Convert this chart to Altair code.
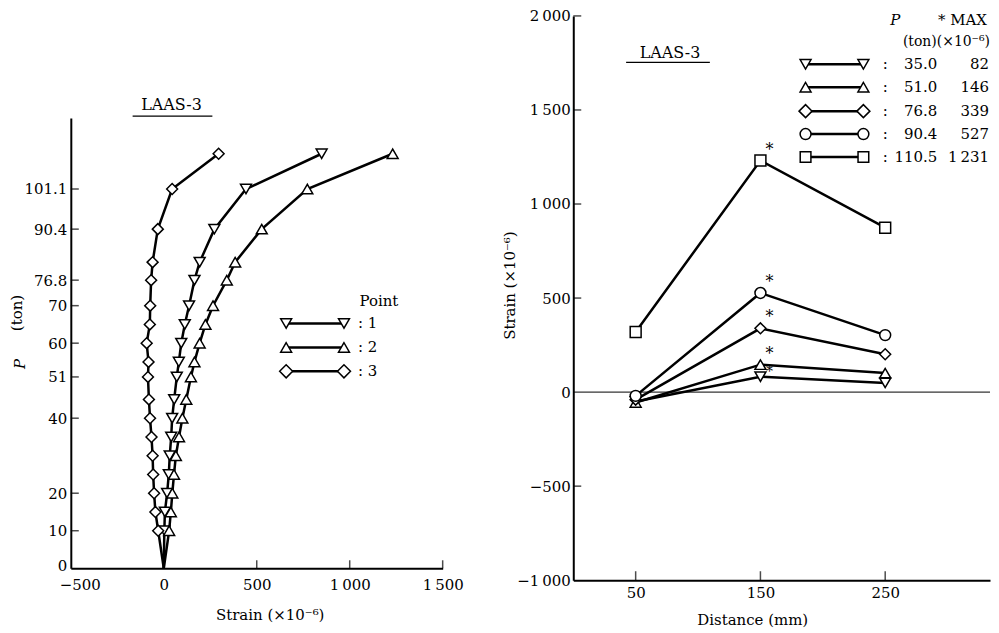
import altair as alt
import pandas as pd

# ---------------- data ----------------
# Left panel: load P (ton) vs strain (x10^-6) at three gauge points
loads = [0, 10, 15, 20, 25, 30, 35, 40, 45, 51, 55, 60, 65, 70, 76.8, 81.6, 90.4, 101.1, 110.5]
strain_p1 = [0, 3, 6, 18, 27, 32, 40, 45, 56, 70, 81, 94, 113, 136, 165, 193, 272, 442, 849]
strain_p2 = [0, 29, 38, 46, 55, 65, 82, 100, 121, 146, 165, 193, 224, 265, 339, 384, 527, 772, 1231]
strain_p3 = [0, -30, -45, -52, -57, -60, -66, -74, -80, -85, -82, -92, -75, -73, -68, -60, -32, 45, 295]
point_names = ["1", "2", "3"]
point_shapes = ["triangle-down", "triangle-up", "diamond"]
point_sizes = [120, 120, 170]

left_y_ticks = [0, 10, 20, 40, 51, 60, 70, 76.8, 90.4, 101.1]
left_y_inner_ticks = [10, 20, 40, 51, 60, 70, 76.8, 90.4, 101.1]
left_x_ticks = [-500, 0, 500, 1000, 1500]
left_x_inner_ticks = [500, 1000, 1500]

# Right panel: strain vs distance for five load levels
distances = [50, 150, 250]
load_levels = ["35.0", "51.0", "76.8", "90.4", "110.5"]
max_labels = ["82", "146", "339", "527", "1\u2009231"]
strain_35 = [-50, 82, 49]
strain_51 = [-55, 146, 101]
strain_768 = [-40, 339, 201]
strain_904 = [-20, 527, 303]
strain_1105 = [320, 1231, 874]
level_shapes = ["triangle-down", "triangle-up", "diamond", "circle", "square"]
level_sizes = [120, 120, 170, 120, 115]

right_y_ticks = [-1000, -500, 0, 500, 1000, 1500, 2000]
right_y_inner_ticks = [-500, 500, 1000, 1500, 2000]
right_x_ticks = [50, 150, 250]

# ---------------- tables ----------------
left_df = pd.DataFrame({
    "load": loads * 3,
    "strain": strain_p1 + strain_p2 + strain_p3,
    "point": [point_names[0]] * len(loads) + [point_names[1]] * len(loads) + [point_names[2]] * len(loads),
})
right_series = [strain_35, strain_51, strain_768, strain_904, strain_1105]
right_df = pd.DataFrame({
    "distance": distances * len(load_levels),
    "strain": sum(right_series, []),
    "level": sum([[lv] * len(distances) for lv in load_levels], []),
})
one = pd.DataFrame({"a": [0]})

FONT = "DejaVu Serif"
THOUSANDS = "replace(format(datum.value, ','), ',', '\u2009')"

# ---------------- left panel ----------------
LW, LH = 373, 554
lx = alt.Scale(domain=[-500, 1500], nice=False, zero=False)
ly = alt.Scale(domain=[0, 120], range=[LH, 102.5], nice=False)
shape_l = alt.Shape("point:N", scale=alt.Scale(domain=point_names, range=point_shapes), legend=None)
size_l = alt.Size("point:N", scale=alt.Scale(domain=point_names, range=point_sizes), legend=None)

l_lines = alt.Chart(left_df).mark_line(color="black", strokeWidth=2.5).encode(
    x=alt.X("strain:Q", scale=lx, axis=alt.Axis(
        values=left_x_ticks, ticks=False, grid=False, title=None,
        labelExpr=THOUSANDS, labelFlush=False, domainWidth=2, labelPadding=9,
        labelOffset={"condition": {"test": "datum.value == -500", "value": 9}, "value": 0})),
    y=alt.Y("load:Q", scale=ly, axis=alt.Axis(
        values=left_y_ticks, ticks=False, grid=False, title=None,
        format=".4~g", domainWidth=2, labelPadding=4,
        labelOffset={"condition": {"test": "datum.value == 0", "value": -3}, "value": 0})),
    detail="point:N",
    order="load:Q",
)
l_points = alt.Chart(left_df).transform_filter("datum.load > 0").mark_point(
    filled=True, fill="white", stroke="black", strokeWidth=1.5, opacity=1
).encode(
    x=alt.X("strain:Q", scale=lx),
    y=alt.Y("load:Q", scale=ly),
    shape=shape_l, size=size_l,
)
l_yt = alt.Chart(pd.DataFrame({"load": left_y_inner_ticks})).mark_tick(
    orient="horizontal", size=8, thickness=1.5, color="black"
).encode(y=alt.Y("load:Q", scale=ly), x=alt.value(4))
l_xt = alt.Chart(pd.DataFrame({"strain": left_x_inner_ticks})).mark_tick(
    orient="vertical", size=8, thickness=1.5, color="black"
).encode(x=alt.X("strain:Q", scale=lx), y=alt.value(LH - 4))

l_texts = [
    alt.Chart(one).mark_text(text="LAAS-3", fontSize=16).encode(x=alt.value(101), y=alt.value(89.5)),
    alt.Chart(one).mark_rule(color="black", strokeWidth=1.2).encode(x=alt.value(62), x2=alt.value(142), y=alt.value(100.5)),
    alt.Chart(one).mark_text(text="Point", fontSize=15).encode(x=alt.value(309), y=alt.value(285.5)),
    alt.Chart(one).mark_text(text="P", fontSize=15, fontStyle="italic", angle=270).encode(x=alt.value(-51), y=alt.value(349)),
    alt.Chart(one).mark_text(text="(ton)", fontSize=15, angle=270).encode(x=alt.value(-53.5), y=alt.value(298)),
    alt.Chart(one).mark_text(text="Strain (\u00d710\u207b\u2076)", fontSize=15).encode(x=alt.value(200), y=alt.value(601)),
]
leg_rows_l = [308.5, 332.5, 356.5]
for i, nm in enumerate(point_names):
    yy = leg_rows_l[i]
    l_texts.append(alt.Chart(one).mark_rule(color="black", strokeWidth=2.5).encode(
        x=alt.value(216), x2=alt.value(274), y=alt.value(yy)))
    for xx in (216, 274):
        l_texts.append(alt.Chart(one).mark_point(
            shape=point_shapes[i], size=point_sizes[i], filled=True, fill="white",
            stroke="black", strokeWidth=1.5, opacity=1).encode(x=alt.value(xx), y=alt.value(yy)))
    l_texts.append(alt.Chart(one).mark_text(text=": " + nm, fontSize=15, align="left").encode(
        x=alt.value(288), y=alt.value(yy)))

left = alt.layer(l_lines, l_points, l_yt, l_xt, *l_texts).properties(width=LW, height=LH)

# ---------------- right panel ----------------
RW, RH = 418, 566
rx = alt.Scale(domain=[0, 334], nice=False, zero=False)
ry = alt.Scale(domain=[-1000, 2000], nice=False)
shape_r = alt.Shape("level:N", scale=alt.Scale(domain=load_levels, range=level_shapes), legend=None)
size_r = alt.Size("level:N", scale=alt.Scale(domain=load_levels, range=level_sizes), legend=None)

r_lines = alt.Chart(right_df).mark_line(color="black", strokeWidth=2.5).encode(
    x=alt.X("distance:Q", scale=rx, axis=alt.Axis(values=right_x_ticks, ticks=False, grid=False, title=None,
                                                   labelFlush=False, domainWidth=2, labelPadding=5)),
    y=alt.Y("strain:Q", scale=ry, axis=alt.Axis(values=right_y_ticks, ticks=False, grid=False, title=None,
                                                 labelExpr=THOUSANDS, domainWidth=2, labelPadding=3)),
    detail="level:N",
)
r_zero = alt.Chart(pd.DataFrame({"strain": [0]})).mark_rule(color="black", strokeWidth=1).encode(
    y=alt.Y("strain:Q", scale=ry))
r_points = alt.Chart(right_df).mark_point(
    filled=True, fill="white", stroke="black", strokeWidth=1.5, opacity=1
).encode(
    x=alt.X("distance:Q", scale=rx),
    y=alt.Y("strain:Q", scale=ry),
    shape=shape_r, size=size_r,
)
# asterisks marking the maximum (at 150 mm); the lowest one sits a little lower
r_star_low = alt.Chart(right_df).transform_filter(
    "datum.distance == 150 && datum.level == '35.0'"
).mark_text(text="*", fontSize=14, dx=9, dy=-5).encode(
    x=alt.X("distance:Q", scale=rx), y=alt.Y("strain:Q", scale=ry))
r_star = alt.Chart(right_df).transform_filter(
    "datum.distance == 150 && datum.level != '35.0'"
).mark_text(text="*", fontSize=16, dx=9, dy=-11).encode(
    x=alt.X("distance:Q", scale=rx), y=alt.Y("strain:Q", scale=ry))
r_yt = alt.Chart(pd.DataFrame({"strain": right_y_inner_ticks})).mark_tick(
    orient="horizontal", size=8, thickness=1.5, color="black"
).encode(y=alt.Y("strain:Q", scale=ry), x=alt.value(4))
r_xt = alt.Chart(pd.DataFrame({"distance": right_x_ticks})).mark_tick(
    orient="vertical", size=9, thickness=1.5, color="black"
).encode(x=alt.X("distance:Q", scale=rx), y=alt.value(RH - 4.5))

r_texts = [
    alt.Chart(one).mark_text(text="LAAS-3", fontSize=16).encode(x=alt.value(97), y=alt.value(37.5)),
    alt.Chart(one).mark_rule(color="black", strokeWidth=1.2).encode(x=alt.value(53), x2=alt.value(137), y=alt.value(46.5)),
    alt.Chart(one).mark_text(text="P", fontSize=15, fontStyle="italic").encode(x=alt.value(323), y=alt.value(4.5)),
    alt.Chart(one).mark_text(text="* MAX", fontSize=15, align="right").encode(x=alt.value(415), y=alt.value(4.5)),
    alt.Chart(one).mark_text(text="(ton)(\u00d710\u207b\u2076)", fontSize=14, align="right").encode(x=alt.value(418), y=alt.value(26.5)),
    alt.Chart(one).mark_text(text="Strain (\u00d710\u207b\u2076)", fontSize=15, angle=270).encode(x=alt.value(-63), y=alt.value(270.5)),
    alt.Chart(one).mark_text(text="Distance (mm)", fontSize=15).encode(x=alt.value(180), y=alt.value(606)),
]
leg_rows_r = [48.5, 71.5, 95.5, 118.5, 141.5]
for i, lv in enumerate(load_levels):
    yy = leg_rows_r[i]
    r_texts.append(alt.Chart(one).mark_rule(color="black", strokeWidth=2.5).encode(
        x=alt.value(233), x2=alt.value(291), y=alt.value(yy)))
    for xx in (233, 291):
        r_texts.append(alt.Chart(one).mark_point(
            shape=level_shapes[i], size=level_sizes[i], filled=True, fill="white",
            stroke="black", strokeWidth=1.5, opacity=1).encode(x=alt.value(xx), y=alt.value(yy)))
    r_texts.append(alt.Chart(one).mark_text(text=":", fontSize=15).encode(x=alt.value(313), y=alt.value(yy)))
    r_texts.append(alt.Chart(one).mark_text(text=lv, fontSize=15, align="right").encode(x=alt.value(365), y=alt.value(yy)))
    r_texts.append(alt.Chart(one).mark_text(text=max_labels[i], fontSize=15, align="right").encode(x=alt.value(417), y=alt.value(yy)))

right = alt.layer(r_lines, r_zero, r_points, r_star_low, r_star, r_yt, r_xt, *r_texts).properties(width=RW, height=RH)

chart = alt.hconcat(left, right, spacing=131, bounds="flush").resolve_scale(
    shape="independent", size="independent"
).properties(
    padding={"left": 2, "top": 0, "right": 0, "bottom": 0}
).configure_view(stroke=None).configure_axis(
    labelFont=FONT, labelFontSize=15, labelColor="black", domainColor="black"
).configure_text(font=FONT, color="black")

chart.save("out.html", embed_options={"renderer": "svg", "actions": False})
